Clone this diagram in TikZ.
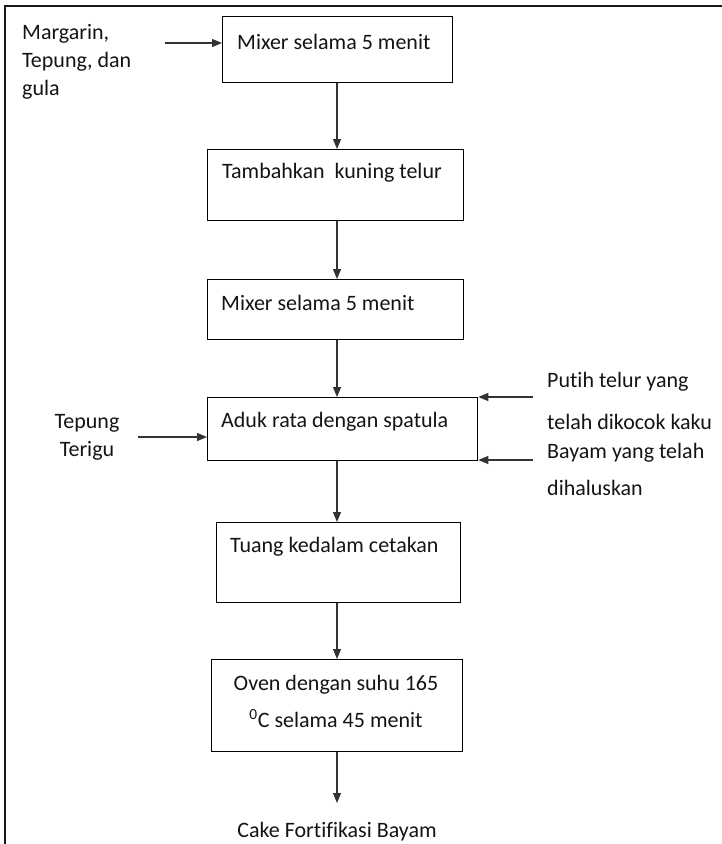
\documentclass[tikz,border=0pt]{standalone}
\usepackage{fontspec}
\setmainfont{Carlito}[RawFeature=-liga]
\usetikzlibrary{arrows.meta,calc}
\tikzset{
  box/.style={draw=black, line width=1.3pt, rectangle, inner sep=0pt, anchor=north west},
  txt/.style={inner sep=0pt, anchor=west, font=\fontsize{22}{28}\selectfont, text=black!92},
  arr/.style={draw=black!80, line width=1.2pt, -{Triangle[length=10pt,width=8pt]}},
  frame/.style={draw=black!90, line width=2pt}
}
\begin{document}
\begin{tikzpicture}[x=1pt,y=-1pt]
\useasboundingbox (0,0) rectangle (721,844);
\draw[frame] (5,845) -- (5,6) -- (722,6);
% boxes
\node[box, minimum width=230pt, minimum height=66pt] (b1) at (222,16) {};
\node[box, minimum width=256pt, minimum height=71pt] (b2) at (207,149) {};
\node[box, minimum width=256pt, minimum height=60pt] (b3) at (207,279) {};
\node[box, minimum width=270pt, minimum height=63pt] (b4) at (207,397) {};
\node[box, minimum width=244pt, minimum height=80pt] (b5) at (216,522) {};
\node[box, minimum width=251pt, minimum height=92pt] (b6) at (211,659) {};
% box texts
\node[txt] (t1) at (237,42) {Mixer selama 5 menit};
\node[txt] (t2) at (222,173) {Tambahkan\ \ kuning telur};
\node[txt] (t3) at (221,303) {Mixer selama 5 menit};
\node[txt] (t4) at (221,422) {Aduk rata dengan spatula};
\node[txt] (t5) at (230,547) {Tuang kedalam cetakan};
\node[txt, anchor=center, align=center] (t6) at (336,701) {Oven dengan suhu 165\\[9pt]\textsuperscript{0}C selama 45 menit};
% side labels
\node[txt, align=left] (l1) at (22,62) {Margarin,\\Tepung, dan\\gula};
\node[txt, anchor=center, align=center] (l4) at (87,437) {Tepung\\Terigu};
\node[txt, align=left] (r1) at (547,401) {Putih telur yang\\[14pt]telah dikocok kaku};
\node[txt, align=left] (r2) at (547,469) {Bayam yang telah\\[9pt]dihaluskan};
\node[txt, anchor=base] (fin) at (337,837) {Cake Fortifikasi Bayam};
% connector anchors
\coordinate (sp) at (337,0);
\coordinate (s1) at (165,43);
\coordinate (s4) at (138,437);
\coordinate (q1) at (533,397);
\coordinate (q2) at (533,460);
\coordinate (e6) at (337,803);
% connectors
\draw[arr] (s1) -- (s1 -| b1.west);
\draw[arr] (b1.south -| sp) -- (b2.north -| sp);
\draw[arr] (b2.south -| sp) -- (b3.north -| sp);
\draw[arr] (b3.south -| sp) -- (b4.north -| sp);
\draw[arr] (s4) -- (s4 -| b4.west);
\draw[arr] (q1) -- (q1 -| b4.east);
\draw[arr] (q2) -- (q2 -| b4.east);
\draw[arr] (b4.south -| sp) -- (b5.north -| sp);
\draw[arr] (b5.south -| sp) -- (b6.north -| sp);
\draw[arr] (b6.south -| sp) -- (e6);
\end{tikzpicture}
\end{document}
